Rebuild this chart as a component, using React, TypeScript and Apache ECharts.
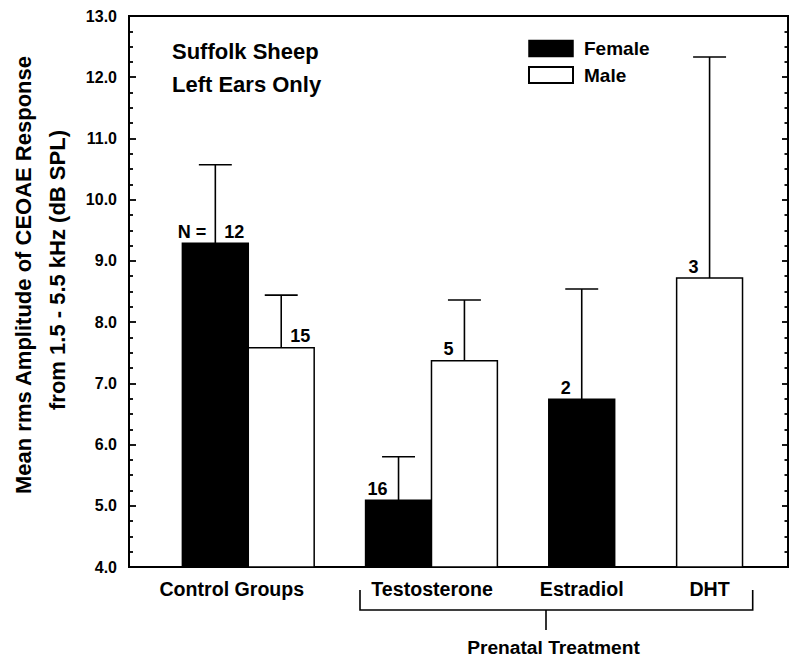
import React, { useEffect, useRef } from 'react';
import * as echarts from 'echarts';

// ---- data ----
const categories = ['Control Groups', 'Testosterone', 'Estradiol', 'DHT'];
const categoryX = [1.56, 4.6, 6.87, 8.81];

const femaleX = [1.31, 4.09, 6.87];
const femaleMean = [9.29, 5.09, 6.74];
const femaleUpper = [10.57, 5.8, 8.54];
const femaleN = [12, 16, 2];
const femaleNSide = ['right', 'left', 'left'];
const femaleNPrefix = ['N =', '', ''];

const maleX = [2.31, 5.09, 8.81];
const maleMean = [7.58, 7.37, 8.72];
const maleUpper = [8.44, 8.36, 12.33];
const maleN = [15, 5, 3];
const maleNSide = ['right', 'left', 'left'];
const maleNPrefix = ['', '', ''];

const Y_MIN = 4;
const Y_MAX = 13;
const X_MIN = 0;
const X_MAX = 10;

const FONT = '"Liberation Sans", Arial, Helvetica, sans-serif';

function barRender(fill: string) {
  return (params: any, api: any) => {
    const x = api.value(0);
    const y = api.value(1);
    const top = api.coord([x, y]);
    const base = api.coord([x, Y_MIN]);
    const w = api.size([1, 0])[0];
    return {
      type: 'rect',
      shape: { x: top[0] - w / 2, y: top[1], width: w, height: base[1] - top[1] },
      style: { fill, stroke: '#000', lineWidth: 1.5 },
    };
  };
}

function errRender(ns: number[], sides: string[], prefixes: string[]) {
  return (params: any, api: any) => {
    const i = params.dataIndex;
    const x = api.value(0);
    const top = api.coord([x, api.value(1)]);
    const up = api.coord([x, api.value(2)]);
    const half = api.size([0.5, 0])[0] / 2;
    const ty = top[1] - 11.5;
    const children: any[] = [
      { type: 'line', shape: { x1: top[0], y1: top[1], x2: up[0], y2: up[1] }, style: { stroke: '#000', lineWidth: 1.6 } },
      { type: 'line', shape: { x1: up[0] - half, y1: up[1], x2: up[0] + half, y2: up[1] }, style: { stroke: '#000', lineWidth: 1.6 } },
    ];
    const right = sides[i] === 'right';
    children.push({
      type: 'text',
      x: right ? top[0] + 9 : top[0] - 11,
      y: ty,
      style: {
        text: String(ns[i]),
        fill: '#000',
        fontSize: 18,
        fontWeight: 'bold',
        fontFamily: FONT,
        align: right ? 'left' : 'right',
        verticalAlign: 'middle',
      },
    });
    if (prefixes[i]) {
      children.push({
        type: 'text',
        x: top[0] - 9,
        y: ty,
        style: {
          text: prefixes[i],
          fill: '#000',
          fontSize: 18,
          fontWeight: 'bold',
          fontFamily: FONT,
          align: 'right',
          verticalAlign: 'middle',
        },
      });
    }
    return { type: 'group', children };
  };
}

export default function App() {
  const ref = useRef<HTMLDivElement>(null);
  useEffect(() => {
    if (!ref.current) return;
    const chart = echarts.init(ref.current, null, { renderer: 'svg' });
    const option: any = {
      animation: false,
      backgroundColor: '#fff',
      textStyle: { fontFamily: FONT, color: '#000' },
      grid: {
        left: 129,
        right: 12,
        top: 16,
        bottom: 97,
        show: true,
        borderColor: '#000',
        borderWidth: 2,
        backgroundColor: 'transparent',
      },
      legend: {
        orient: 'vertical',
        left: 523,
        top: 34,
        itemWidth: 44,
        itemHeight: 16,
        itemGap: 7.5,
        selectedMode: false,
        textStyle: { fontSize: 19, fontWeight: 'bold', color: '#000', fontFamily: FONT, lineHeight: 16, padding: [0, 0, 0, 6] },
        data: [
          { name: 'Female', icon: 'rect', itemStyle: { color: '#000', borderColor: '#000', borderWidth: 1.5 } },
          { name: 'Male', icon: 'rect', itemStyle: { color: '#fff', borderColor: '#000', borderWidth: 2 } },
        ],
      },
      xAxis: {
        type: 'value',
        min: X_MIN,
        max: X_MAX,
        axisLine: { show: false },
        axisTick: { show: false },
        splitLine: { show: false },
        axisLabel: {
          customValues: categoryX,
          margin: 12,
          fontSize: 19.6,
          fontWeight: 'bold',
          color: '#000',
          fontFamily: FONT,
          formatter: (v: number) => {
            const idx = categoryX.findIndex((c) => Math.abs(c - v) < 1e-6);
            return idx >= 0 ? categories[idx] : '';
          },
        },
      },
      yAxis: [
        {
          type: 'value',
          min: Y_MIN,
          max: Y_MAX,
          interval: 1,
          position: 'left',
          axisLine: { show: true, lineStyle: { color: '#000', width: 2 } },
          axisTick: { show: true, inside: true, length: 7, lineStyle: { color: '#000', width: 1.8 } },
          minorTick: { show: true, splitNumber: 4, length: 4, lineStyle: { color: '#000', width: 1.8 } },
          splitLine: { show: false },
          axisLabel: {
            margin: 12,
            fontSize: 16,
            fontWeight: 'bold',
            color: '#000',
            fontFamily: FONT,
            formatter: (v: number) => v.toFixed(1),
          },
        },
        {
          type: 'value',
          min: Y_MIN,
          max: Y_MAX,
          interval: 1,
          position: 'right',
          axisLine: { show: true, lineStyle: { color: '#000', width: 2 } },
          axisTick: { show: true, inside: true, length: 6, lineStyle: { color: '#000', width: 1.8 } },
          minorTick: { show: true, splitNumber: 4, length: 3.5, lineStyle: { color: '#000', width: 1.8 } },
          splitLine: { show: false },
          axisLabel: { show: false },
        },
      ],
      series: [
        {
          name: 'Female',
          type: 'custom',
          renderItem: barRender('#000'),
          itemStyle: { color: '#000' },
          encode: { x: 0, y: 1 },
          data: femaleX.map((x, i) => [x, femaleMean[i]]),
          z: 2,
        },
        {
          name: 'Male',
          type: 'custom',
          renderItem: barRender('#fff'),
          itemStyle: { color: '#fff' },
          encode: { x: 0, y: 1 },
          data: maleX.map((x, i) => [x, maleMean[i]]),
          z: 2,
        },
        {
          name: 'FemaleErr',
          type: 'custom',
          renderItem: errRender(femaleN, femaleNSide, femaleNPrefix),
          encode: { x: 0, y: [1, 2] },
          data: femaleX.map((x, i) => [x, femaleMean[i], femaleUpper[i]]),
          z: 3,
        },
        {
          name: 'MaleErr',
          type: 'custom',
          renderItem: errRender(maleN, maleNSide, maleNPrefix),
          encode: { x: 0, y: [1, 2] },
          data: maleX.map((x, i) => [x, maleMean[i], maleUpper[i]]),
          z: 3,
        },
      ],
      graphic: [
        {
          type: 'text',
          x: 23,
          y: 275,
          rotation: Math.PI / 2,
          style: {
            text: 'Mean rms Amplitude of CEOAE Response',
            fill: '#000',
            fontSize: 22,
            fontWeight: 'bold',
            fontFamily: FONT,
            align: 'center',
            verticalAlign: 'middle',
          },
        },
        {
          type: 'text',
          x: 57,
          y: 270,
          rotation: Math.PI / 2,
          style: {
            text: 'from 1.5 - 5.5 kHz (dB SPL)',
            fill: '#000',
            fontSize: 22,
            fontWeight: 'bold',
            fontFamily: FONT,
            align: 'center',
            verticalAlign: 'middle',
          },
        },
        {
          type: 'text',
          x: 172,
          y: 51,
          style: { text: 'Suffolk Sheep', fill: '#000', fontSize: 22, fontWeight: 'bold', fontFamily: FONT, align: 'left', verticalAlign: 'middle' },
        },
        {
          type: 'text',
          x: 172,
          y: 84,
          style: { text: 'Left Ears Only', fill: '#000', fontSize: 22, fontWeight: 'bold', fontFamily: FONT, align: 'left', verticalAlign: 'middle' },
        },
        {
          type: 'polyline',
          shape: { points: [[360, 590], [360, 610], [752.7, 610], [752.7, 590]] },
          style: { stroke: '#000', lineWidth: 1.6, fill: null },
        },
        {
          type: 'line',
          shape: { x1: 546, y1: 610, x2: 546, y2: 630 },
          style: { stroke: '#000', lineWidth: 1.6 },
        },
        {
          type: 'text',
          x: 553.5,
          y: 647,
          style: { text: 'Prenatal Treatment', fill: '#000', fontSize: 19.2, fontWeight: 'bold', fontFamily: FONT, align: 'center', verticalAlign: 'middle' },
        },
      ],
    };
    chart.setOption(option);
    return () => chart.dispose();
  }, []);
  return (
    <div
      ref={ref}
      style={{ position: 'fixed', left: 0, top: 0, width: 800, height: 664, background: '#fff' }}
    />
  );
}
